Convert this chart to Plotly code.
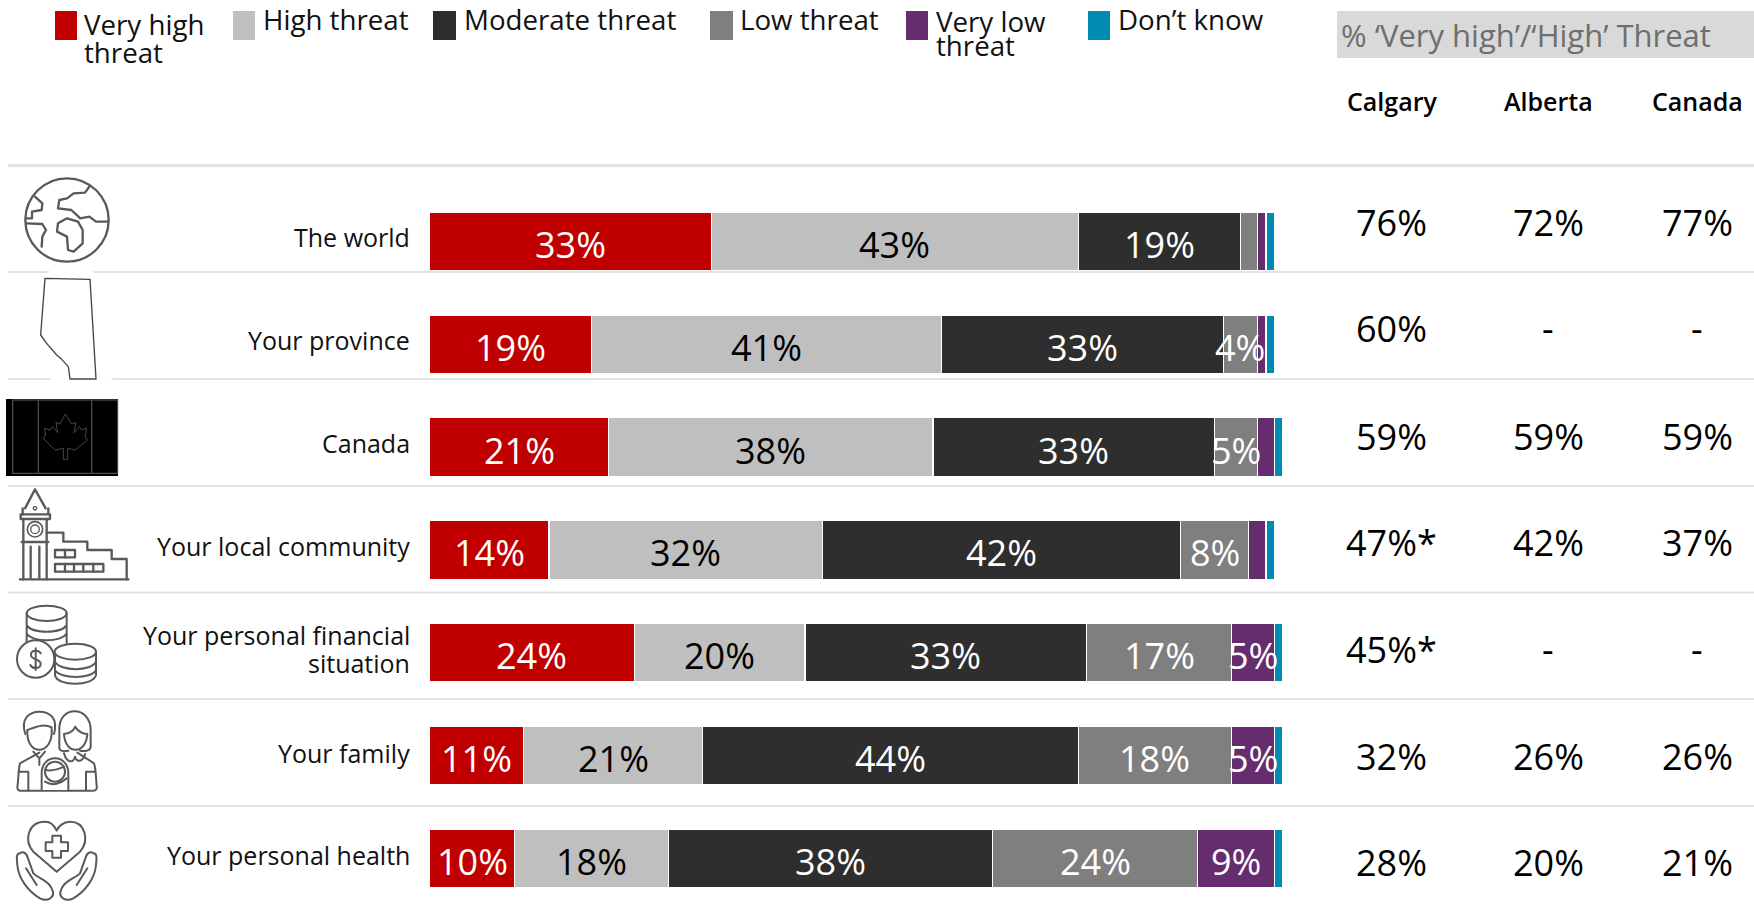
import base64
import plotly.graph_objects as go

W, H = 1754, 905
FONT = "Open Sans"

categories = ["The world", "Your province", "Canada", "Your local community",
              "Your personal financial<br>situation", "Your family", "Your personal health"]
series_names = ["Very high<br>threat", "High threat", "Moderate threat", "Low threat",
                "Very low<br>threat", "Don’t know"]
very_high = [33, 19, 21, 14, 24, 11, 10]
high = [43, 41, 38, 32, 20, 21, 18]
moderate = [19, 33, 33, 42, 33, 44, 38]
low = [2, 4, 5, 8, 17, 18, 24]
very_low = [1, 1, 2, 2, 5, 5, 9]
dont_know = [1, 1, 1, 1, 1, 1, 1]
series_values = [very_high, high, moderate, low, very_low, dont_know]
series_colors = ["#C00000", "#BFBFBF", "#2E2E2E", "#7F7F7F", "#652D6E", "#008BB3"]
label_colors = ["white", "black", "white", "white", "white", "white"]
label_minimum = 4

table_header = "% ‘Very high’/‘High’ Threat"
table_columns = ["Calgary", "Alberta", "Canada"]
calgary = ["76%", "60%", "59%", "47%*", "45%*", "32%", "28%"]
alberta = ["72%", "-", "59%", "42%", "-", "26%", "20%"]
canada = ["77%", "-", "59%", "37%", "-", "26%", "21%"]
table_values = [calgary, alberta, canada]

# page layout, in pixels of the 1754x905 picture
PLOT_L, PLOT_R, PLOT_T, PLOT_B = 429.5, 1283, 190.1, 889.1
COL_X = [1391.5, 1548, 1697]
TABLE_Y = [222.6, 329, 436, 542.5, 649, 756, 862]
CAT_Y = [237, 340, 443, 546, 649, 753, 855]
RULE_Y = [165.5, 272, 379, 486, 592.5, 699, 806]
LEG_SWATCH = [(55, 77), (233, 255), (433, 456), (710, 733), (906, 928), (1088, 1110)]
LEG_TEXT = [(84, 24, 28), (263, 19, 0), (464, 19, 0), (740, 19, 0), (936, 21, 24), (1118, 19, 0)]


def px(x):
    return x / W


def py(y):
    return 1 - y / H


fig = go.Figure()
for name, vals, col in zip(series_names, series_values, series_colors):
    fig.add_trace(go.Bar(
        name=name.replace("<br>", " "), y=list(range(len(categories))), x=vals, orientation="h",
        marker=dict(color=col, line=dict(color="white", width=1.2)),
        hoverinfo="x+name",
    ))

ann = []
# bar value labels (drawn above every bar, they overflow thin segments as in the source)
for i in range(len(categories)):
    running = 0
    for vals, tc in zip(series_values, label_colors):
        v = vals[i]
        if v >= label_minimum:
            ann.append(dict(x=running + v / 2, y=i, xref="x", yref="y", text=f"{v}%", showarrow=False,
                            xanchor="center", yanchor="middle",
                            yshift=-3, font=dict(family=FONT, size=36, color=tc)))
        running += v

# category labels
for label, y in zip(categories, CAT_Y):
    lines = label.split("<br>")
    for k, line in enumerate(lines):
        yy = y + (k - (len(lines) - 1) / 2) * 28
        ann.append(dict(x=px(411.5), y=py(yy), xref="paper", yref="paper", text=line, showarrow=False,
                        xanchor="right", yanchor="middle", font=dict(family=FONT, size=25, color="#111111")))

# table
ann.append(dict(x=px(1339), y=py(35), xref="paper", yref="paper", text=table_header, showarrow=False,
                xanchor="left", yanchor="middle", font=dict(family=FONT, size=31, color="#6E6E6E")))
for col_x, head, vals in zip(COL_X, table_columns, table_values):
    ann.append(dict(x=px(col_x), y=py(101), xref="paper", yref="paper", text=head, showarrow=False,
                    xanchor="center", yanchor="middle", font=dict(family=FONT, size=25, color="black", weight=600)))
    for y, v in zip(TABLE_Y, vals):
        ann.append(dict(x=px(col_x), y=py(y), xref="paper", yref="paper", text=v, showarrow=False,
                        xanchor="center", yanchor="middle", font=dict(family=FONT, size=36, color="black")))

# legend
shapes = []
for (x0, x1), col in zip(LEG_SWATCH, series_colors):
    shapes.append(dict(type="rect", xref="paper", yref="paper", x0=px(x0), x1=px(x1), y0=py(40), y1=py(11),
                       fillcolor=col, line_width=0))
for name, (x, y, gap) in zip(series_names, LEG_TEXT):
    for k, line in enumerate(name.split("<br>")):
        ann.append(dict(x=px(x - 2), y=py(y + k * gap), xref="paper", yref="paper", text=line, showarrow=False,
                        xanchor="left", yanchor="middle", font=dict(family=FONT, size=27.7, color="#111111")))

# header band and rules
shapes.append(dict(type="rect", xref="paper", yref="paper", x0=px(1337), x1=1, y0=py(58), y1=py(11),
                   fillcolor="#D9D9D9", line_width=0, layer="below"))
for k, y in enumerate(RULE_Y):
    shapes.append(dict(type="line", xref="paper", yref="paper", x0=px(8), x1=1, y0=py(y), y1=py(y),
                       line=dict(color="#E2E2E2", width=3 if k == 0 else 2), layer="below"))


# pictograms: small inline SVGs. Each is drawn in the pixel grid of a 3x crop.
def S(width=7):
    return f'fill="none" stroke="#595959" stroke-width="{width}" stroke-linecap="round" stroke-linejoin="round"'


def svg_image(body, x0, y0, w, h):
    svg = (f'<svg xmlns="http://www.w3.org/2000/svg" width="{w*3}" height="{h*3}" '
           f'viewBox="{x0*3} {y0*3} {w*3} {h*3}" preserveAspectRatio="none">{body}</svg>')
    uri = "data:image/svg+xml;base64," + base64.b64encode(svg.encode()).decode()
    return dict(source=uri, xref="paper", yref="paper", x=px(x0), y=py(y0), sizex=w / W, sizey=h / H,
                xanchor="left", yanchor="top", sizing="stretch", layer="above")


def crop(ox, oy, body):
    """Body coordinates are pixels of a 3x crop whose origin is (ox, oy)."""
    return f'<g transform="translate({ox*3},{oy*3})">{body}</g>'


globe = crop(0, 0, f'''<g {S()}>
<circle cx="201" cy="660" r="125"/>
<path d="M268,560 L255,578 L221,580 L201,595 L178,600 L174,625 L214,630 L241,655 L268,650 L288,665 L322,665"/>
<path d="M105,590 L127,610 L125,630 L96,635 L96,655 L78,655"/>
<path d="M80,670 L127,672 L138,690 L127,710 L125,740"/>
<path d="M201,655 L234,665 L248,690 L248,730 L221,755 L204,750 L201,710 L171,695 L174,670 Z"/>
</g>''')

alberta_icon = crop(0, 260, '''
<path d="M160,28 L278,28 L385,320 L325,365 L170,405 L150,352 L45,90 Z" fill="white"/>
<path d="M135,55 L270,58 L288,357 L210,357 L205,320 L185,298 L170,285 L140,250 L122,225 Z"
 fill="none" stroke="#444" stroke-width="4" stroke-linejoin="round"/>''')

flag = crop(0, 260, '''
<rect x="18" y="417" width="336" height="231" fill="black"/>
<g fill="none" stroke="#555" stroke-width="3.5">
<rect x="38" y="420" width="315" height="220"/>
<path d="M115,420 V640 M275,420 V640"/>
<path stroke-width="2.5" d="M196,462 L215,492 L228,487 L222,518 L238,500 L245,510 L260,505 L255,530 L262,540
L225,570 L203,565 L203,598 L190,598 L190,565 L165,570 L130,535 L137,525 L133,505 L150,510 L157,500 L173,518 L168,487 L180,492 Z"/>
</g>''')

town = crop(0, 260, f'''<g {S()}>
<path d="M75,745 L105,688 L137,745"/><circle cx="105" cy="745" r="5" stroke-width="4"/>
<path d="M68,745 V763 M145,745 V763"/>
<rect x="62" y="763" width="88" height="14"/>
<path d="M70,777 V958 M140,777 V958 M65,846 H145 M92,860 V955 M118,860 V955"/>
<circle cx="105" cy="808" r="23" stroke-width="5"/><circle cx="105" cy="808" r="13" stroke-width="4"/>
<path d="M60,958 H385"/>
<path d="M140,818 H190 V845 H262 V870 H335 V897 H380 V958"/>
<rect x="165" y="870" width="60" height="22"/><path d="M195,870 V892"/>
<rect x="165" y="912" width="145" height="23"/><path d="M195,912 V935 M222,912 V935 M250,912 V935 M280,912 V935"/>
</g>''')

coins = crop(0, 590, f'''<g {S(6)}>
<ellipse cx="140" cy="70" rx="60" ry="23"/>
<path d="M80,70 V155 M200,70 V160 M80,105 C95,132 185,132 200,105 M80,130 C95,158 185,158 200,130"/>
<g fill="white">
<path d="M165,185 V255 C170,290 280,290 288,255 V185 Z" />
<ellipse cx="226" cy="185" rx="62" ry="24"/>
<circle cx="107" cy="207" r="56"/>
</g>
<path d="M165,215 C180,245 275,245 288,215 M165,240 C180,268 275,268 288,240"/>
<path d="M122,190 C115,178 92,180 93,195 C94,212 122,205 122,222 C122,237 97,238 91,225 M107,175 V240"/>
</g>''')

family = crop(0, 590, f'''<g {S(6)}>
<path d="M76,432 C60,385 90,365 118,365 C150,365 175,385 162,432"/>
<path d="M82,420 C110,410 130,400 155,412 V432 C150,495 85,495 82,432 Z"/>
<path d="M178,420 C175,345 272,345 272,420 V470 C272,484 250,484 240,482 M178,420 V475 C180,484 195,484 205,482"/>
<path d="M192,432 C215,430 225,415 225,410 C235,425 250,432 262,432 C258,495 195,495 192,432 Z"/>
<path d="M118,488 L60,520 C55,535 55,580 52,590 C52,598 56,602 62,602 H280 C288,602 292,596 290,588 C288,570 288,535 282,520 L232,488"/>
<path d="M85,545 V600 M258,545 V600 M56,545 H85 M258,545 H286"/>
<path d="M100,485 L118,505 L135,485 M118,505 V525 M192,490 C200,520 220,520 225,500 C230,520 250,515 255,492"/>
<path d="M125,600 V550 C125,490 205,490 205,550 V600" fill="white"/>
<circle cx="165" cy="545" r="30" fill="white"/>
<path d="M137,540 C160,545 180,535 192,530 M135,575 C160,590 180,580 200,565"/>
</g>''')

health = crop(0, 590, f'''<g {S(6)}>
<path d="M170,845 L100,785 C70,750 85,695 135,695 C155,695 165,710 170,722 C175,710 190,695 210,695 C255,695 270,750 240,785 Z"/>
<path d="M157,737 H183 V757 H204 V783 H183 V803 H157 V783 H137 V757 H157 Z"/>
<path d="M60,790 C48,790 50,805 52,825 C55,865 85,905 120,925 C140,935 170,925 155,895 C145,870 115,865 100,850 L82,800 C78,785 65,785 60,790 Z M78,835 L110,885"/>
<path d="M280,790 C292,790 290,805 288,825 C285,865 255,905 220,925 C200,935 170,925 185,895 C195,870 225,865 240,850 L258,800 C262,785 275,785 280,790 Z M262,835 L230,885"/>
</g>''')

images = [
    svg_image(globe, 10, 170, 120, 100),
    svg_image(alberta_icon, 0, 265, 135, 130),
    svg_image(flag, 0, 395, 125, 85),
    svg_image(town, 10, 485, 125, 106),
    svg_image(coins, 10, 600, 100, 96),
    svg_image(family, 10, 705, 100, 98),
    svg_image(health, 10, 815, 100, 90),
]

fig.update_layout(
    width=W, height=H, margin=dict(l=0, r=0, t=0, b=0), paper_bgcolor="white", plot_bgcolor="rgba(0,0,0,0)",
    barmode="stack", bargap=0.43, showlegend=False, annotations=ann, shapes=shapes, images=images,
    xaxis=dict(domain=[px(PLOT_L), px(PLOT_R)], range=[0, 100], visible=False),
    yaxis=dict(domain=[py(PLOT_B), py(PLOT_T)], range=[6.3, -0.5], visible=False),
    font=dict(family=FONT),
)

fig.write_html("out.html", config={"displayModeBar": False},
               post_script="document.body.style.margin='0';document.body.style.overflow='hidden';")
